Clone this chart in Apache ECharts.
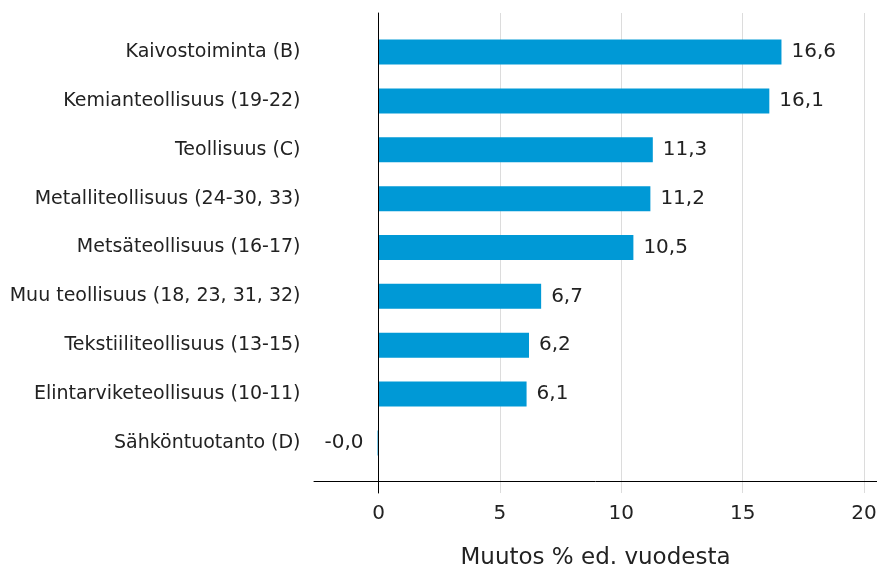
<!DOCTYPE html>
<html>
<head>
<meta charset="utf-8">
<script src="https://cdn.jsdelivr.net/npm/echarts@6/dist/echarts.min.js"></script>
<style>html,body{margin:0;padding:0;background:#fff;}#c{width:877px;height:569px;}</style>
</head>
<body>
<div id="c"></div>
<script>
var categories = ['Kaivostoiminta (B)', 'Kemianteollisuus (19-22)', 'Teollisuus (C)', 'Metalliteollisuus (24-30, 33)', 'Metsäteollisuus (16-17)', 'Muu teollisuus (18, 23, 31, 32)', 'Tekstiiliteollisuus (13-15)', 'Elintarviketeollisuus (10-11)', 'Sähköntuotanto (D)'];
var values = [16.6, 16.1, 11.3, 11.2, 10.5, 6.7, 6.2, 6.1, -0.04];
var xTicks = [0, 5, 10, 15, 20];
var axisName = 'Muutos % ed. vuodesta';

var FONT = '"DejaVu Sans", sans-serif';
var chart = echarts.init(document.getElementById('c'), null, {renderer: 'canvas'});
var xMin = -2.66, xMax = 20.53;
var option = {
  animation: false,
  backgroundColor: '#fff',
  grid: [
    {left: 314, right: 0, top: 13, bottom: 76, outerBoundsMode: 'none', containLabel: false},
    {left: 378.5, right: 13, top: 13, bottom: 76, outerBoundsMode: 'none', containLabel: false},
    {left: 378.5, right: 13, top: 27.6, height: 439.8, outerBoundsMode: 'none', containLabel: false}
  ],
  xAxis: [
    {gridIndex: 0, type: 'value', min: xMin, max: xMax, offset: -12,
     axisLine: {show: true, lineStyle: {color: '#000', width: 1}},
     axisTick: {show: false}, axisLabel: {show: false}, splitLine: {show: false},
     name: axisName, nameLocation: 'middle', nameGap: 66,
     nameTextStyle: {fontFamily: FONT, fontSize: 23, color: '#222'}, z: 10},
    {gridIndex: 1, type: 'value', min: xTicks[0], max: xTicks[xTicks.length - 1], interval: 5, offset: -12,
     axisLine: {show: false}, axisTick: {show: false},
     axisLabel: {fontFamily: FONT, fontSize: 20, color: '#222', margin: 23},
     splitLine: {show: true, lineStyle: {color: '#dcdcdc', width: 1}}},
    {gridIndex: 2, type: 'value', min: xTicks[0], max: xTicks[xTicks.length - 1], show: false}
  ],
  yAxis: [
    {gridIndex: 0, type: 'category', data: [''],
     axisLine: {show: true, onZero: true, lineStyle: {color: '#000', width: 1}},
     axisTick: {show: false}, axisLabel: {show: false}, splitLine: {show: false}, z: 10},
    {gridIndex: 1, type: 'category', data: [''], show: false},
    {gridIndex: 2, type: 'category', data: categories, inverse: true,
     axisLine: {show: false}, axisTick: {show: false},
     axisLabel: {fontFamily: FONT, fontSize: 19, color: '#222', margin: 78}}
  ],
  series: [{
    type: 'bar', xAxisIndex: 2, yAxisIndex: 2, clip: false,
    barWidth: 25,
    itemStyle: {color: '#0099d6'},
    data: values.map(function (v) {
      var d = {value: v};
      if (v < 0) d.label = {position: 'left', distance: 14};
      return d;
    }),
    label: {show: true, position: 'right', distance: 10, fontFamily: FONT, fontSize: 20, color: '#222',
      formatter: function (p) { return p.value.toFixed(1).replace('.', ','); }}
  }]
};
chart.setOption(option);
</script>
</body>
</html>
